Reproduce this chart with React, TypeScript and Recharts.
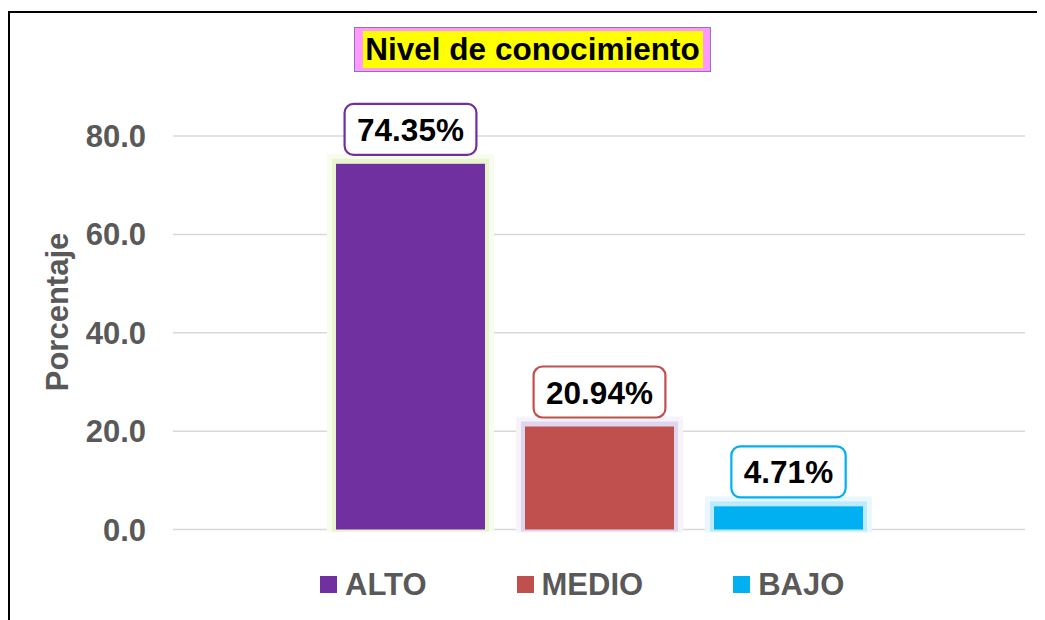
import React from 'react';
import { BarChart, Bar, XAxis, YAxis, CartesianGrid, Legend, LabelList } from 'recharts';

const categories = ['Nivel de conocimiento'];
const seriesNames = ['ALTO', 'MEDIO', 'BAJO'];
const seriesValues = [74.35, 20.94, 4.71];
const yTicks = [0, 20, 40, 60, 80];
const seriesColors = ['#7030A0', '#C0504D', '#00B0F0'];
const glowOuter = ['#F7FCEE', '#F6F3FB', '#EAF8FE'];
const glowInner = ['#E8F4D0', '#E0D5EE', '#BDEBFB'];

const FONT = '"Liberation Sans", Arial, Helvetica, sans-serif';

const data = categories.map((c) => {
  const row: Record<string, any> = { name: c };
  seriesNames.forEach((s, i) => {
    row[s] = seriesValues[i];
  });
  return row;
});

const makeShape = (idx: number) => (props: any) => {
  const { x, y, width, height } = props;
  return (
    <g>
      <rect x={x - 9} y={y - 10} width={width + 18} height={height + 13} fill={glowOuter[idx]} />
      <rect x={x - 4} y={y - 5} width={width + 8} height={height + 7} fill={glowInner[idx]} />
      <rect x={x} y={y} width={width} height={height} fill={seriesColors[idx]} />
    </g>
  );
};

const textWidth = (s: string, fs: number) => {
  let w = 0;
  for (const ch of s) {
    if (ch === '.') w += 0.278;
    else if (ch === '%') w += 0.889;
    else w += 0.556;
  }
  return w * fs;
};

const makeLabel = (idx: number) => (props: any) => {
  const { x, y, width, value } = props;
  const txt = `${Number(value).toFixed(2)}%`;
  const fs = 31.5;
  const bw = textWidth(txt, fs) + 25;
  const bh = 51;
  const cx = x + width / 2;
  const bottom = y - 9;
  const top = bottom - bh;
  return (
    <g>
      <rect x={cx - bw / 2} y={top} width={bw} height={bh} rx={9} ry={9} fill="#FFFFFF" stroke={seriesColors[idx]} strokeWidth={2.2} />
      <text x={cx} y={top + bh / 2 + 11.5} textAnchor="middle" fontFamily={FONT} fontWeight="bold" fontSize={fs} fill="#000000">
        {txt}
      </text>
    </g>
  );
};

const renderLegend = () => (
  <div style={{ display: 'flex', alignItems: 'center', height: 36, fontFamily: FONT, fontWeight: 'bold', fontSize: 31, color: '#595959' }}>
    {seriesNames.map((s, i) => (
      <div key={s} style={{ display: 'flex', alignItems: 'center', marginRight: i < seriesNames.length - 1 ? 90 : 0 }}>
        <div style={{ width: 17, height: 17, background: seriesColors[i], marginRight: 8 }} />
        <span style={{ lineHeight: '36px' }}>{s}</span>
      </div>
    ))}
  </div>
);

const renderYLabel = () => (
  <text x={60} y={304} transform="rotate(-90, 60, 304)" textAnchor="middle" fontFamily={FONT} fontWeight="bold" fontSize={31} fill="#595959">
    Porcentaje
  </text>
);

export default function App() {
  return (
    <div style={{ position: 'relative', width: 1037, height: 612, overflow: 'hidden', background: '#FFFFFF' }}>
      <BarChart
        width={1037}
        height={612}
        data={data}
        margin={{ top: 128, right: 20, bottom: 90.5, left: 0 }}
        barSize={149}
        barGap={40}
      >
        <CartesianGrid vertical={false} stroke="#D9D9D9" strokeWidth={1.5} />
        <XAxis dataKey="name" hide />
        <YAxis
          width={165}
          domain={[0, 80]}
          ticks={yTicks}
          tickFormatter={(v: number) => v.toFixed(1)}
          axisLine={false}
          tickLine={false}
          tickSize={0}
          tickMargin={27}
          tick={{ fontFamily: FONT, fontWeight: 'bold', fontSize: 31, fill: '#595959' }}
          label={renderYLabel}
        />
        <Legend
          verticalAlign="middle"
          layout="horizontal"
          content={renderLegend}
          wrapperStyle={{ top: 558.5, left: 312, width: 600, height: 36 }}
        />
        {seriesNames.map((s, i) => (
          <Bar key={s} dataKey={s} fill={seriesColors[i]} shape={makeShape(i)} isAnimationActive={false}>
            <LabelList dataKey={s} content={makeLabel(i)} />
          </Bar>
        ))}
      </BarChart>
      <div
        style={{
          position: 'absolute',
          left: 346,
          top: 19,
          width: 357,
          height: 45,
          boxSizing: 'border-box',
          background: '#FF99FF',
          border: '1.5px solid #8E74B8',
        }}
      >
        <div
          style={{
            position: 'absolute',
            left: 7.5,
            top: 2.5,
            width: 340,
            height: 37,
            background: '#FFFF00',
            fontFamily: FONT,
            fontWeight: 'bold',
            fontSize: 31.5,
            color: '#000000',
            textAlign: 'center',
            lineHeight: '37px',
            whiteSpace: 'nowrap',
          }}
        >
          Nivel de conocimiento
        </div>
      </div>
      <div
        style={{
          position: 'absolute',
          left: 0,
          top: 3,
          width: 1200,
          height: 800,
          borderTop: '2px solid #000000',
          borderLeft: '2px solid #000000',
          pointerEvents: 'none',
        }}
      />
    </div>
  );
}
